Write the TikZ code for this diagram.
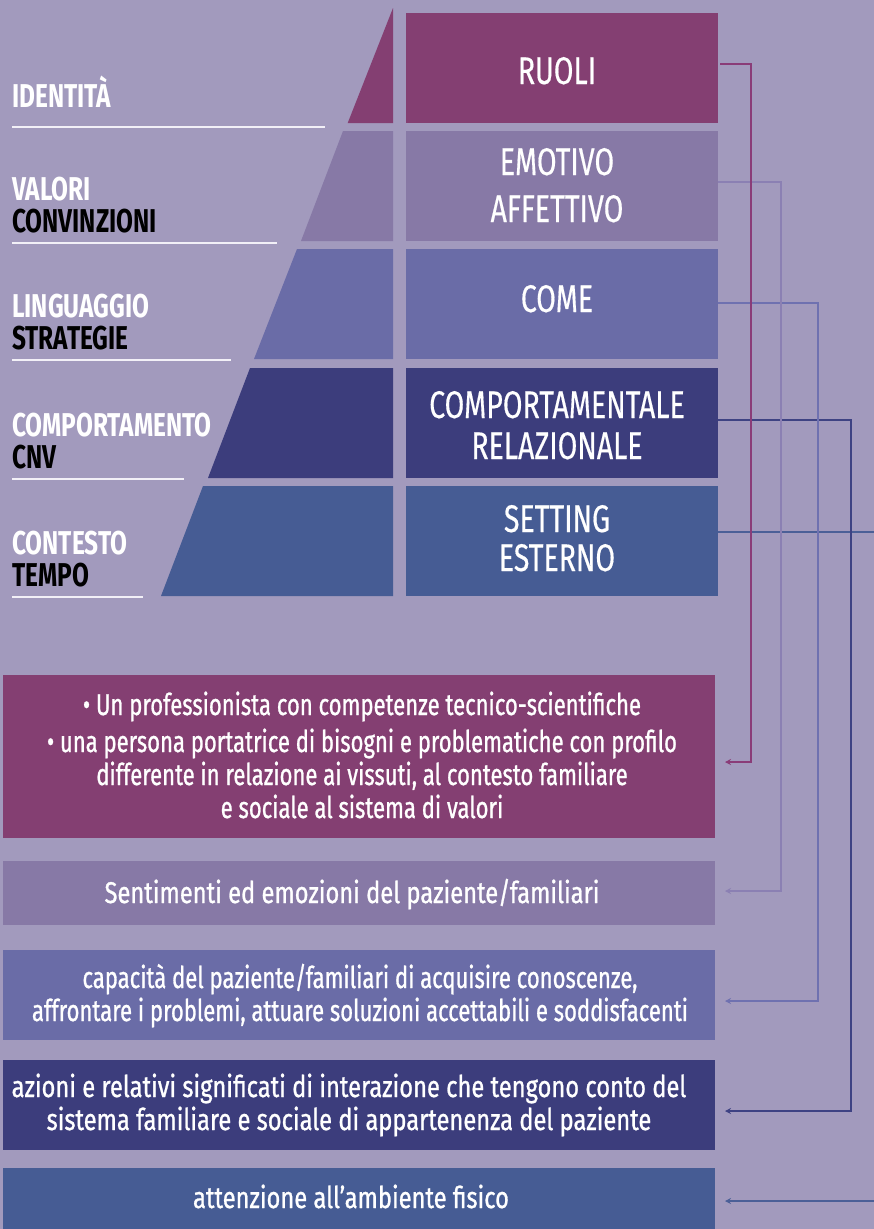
\documentclass[tikz,border=0pt]{standalone}
\usepackage{fontspec}
\setmainfont{Fira Sans}[FakeStretch=0.74]
\newfontfamily\rfont{Fira Sans}[FakeStretch=0.74, FakeBold=0.4]
\newfontfamily\lowA{Fira Sans}[FakeStretch=0.735, FakeBold=0.9]
\newfontfamily\lowB{Fira Sans}[FakeStretch=0.79, FakeBold=0.9]
\usetikzlibrary{arrows.meta}
\definecolor{bg}{HTML}{A29ABD}
\definecolor{cR}{HTML}{843F72}
\definecolor{cE}{HTML}{8779A6}
\definecolor{cC}{HTML}{6A6CA7}
\definecolor{cB}{HTML}{3C3D7C}
\definecolor{cS}{HTML}{465C94}
\definecolor{lR}{HTML}{8A3C78}
\definecolor{lE}{HTML}{8B80B3}
\definecolor{lC}{HTML}{6F71B0}
\definecolor{lB}{HTML}{3E4283}
\definecolor{lS}{HTML}{4B5F97}
\definecolor{uline}{HTML}{F2F0F7}
\tikzset{
  rbox/.style={rectangle, inner sep=0pt, minimum width=312pt, minimum height=110pt},
  bbox/.style={rectangle, inner sep=0pt, minimum width=712pt},
  rtext/.style={anchor=base, inner sep=0pt, text=white, align=center, font=\rfont\fontsize{38.5}{#1}\selectfont},
  rtext/.default=42,
  btext/.style={anchor=base, inner sep=0pt, text=white, align=center, font=#1\fontsize{30}{33}\selectfont},
  btext/.default=\lowB,
  ltextw/.style={anchor=base west, inner sep=0pt, text=white, font=\bfseries\fontsize{33}{33}\selectfont},
  ltextb/.style={anchor=base west, inner sep=0pt, text=black, font=\bfseries\fontsize{33}{33}\selectfont},
  ul/.style={draw=uline, line width=2pt},
  conn/.style={draw=#1, line width=1.6pt, -{Stealth[length=6pt,width=6pt]}},
}
\begin{document}
\begin{tikzpicture}[x=1pt,y=-1pt]
\fill[bg] (0,0) rectangle (874,1229);
\useasboundingbox (0,0) rectangle (874,1229);

% pyramid
\fill[cR] (393,8) -- (393,123) -- (347.7,123) -- cycle;
\fill[cE] (393,131) -- (393,241) -- (301,241) -- (343,131) -- cycle;
\fill[cC] (393,249) -- (393,359) -- (254,359) -- (297,249) -- cycle;
\fill[cB] (393,368) -- (393,478) -- (208,478) -- (250,368) -- cycle;
\fill[cS] (393,486) -- (393,596) -- (161,596) -- (203,486) -- cycle;

% right boxes
\node[rbox, fill=cR] (ruoli) at (562,68) {};
\node[rbox, fill=cE] (emot) at (562,186) {};
\node[rbox, fill=cC] (come) at (562,304) {};
\node[rbox, fill=cB] (comp) at (562,423) {};
\node[rbox, fill=cS] (sett) at (562,541) {};
\node[rtext] (truoli) at (557,84) {RUOLI};
\node[rtext=47] (temot) at (557,222) {EMOTIVO\\AFFETTIVO};
\node[rtext] (tcome) at (557,312) {COME};
\node[rtext=41] (tcomp) at (557,459) {COMPORTAMENTALE\\RELAZIONALE};
\node[rtext=39] (tsett) at (557,571) {SETTING\\ESTERNO};

% left labels
\node[ltextw] (l1) at (12,107) {IDENTITÀ};
\draw[ul] (12,127) -- (325,127);
\node[ltextw] (l2a) at (12,200) {VALORI};
\node[ltextb] (l2b) at (12,232) {CONVINZIONI};
\draw[ul] (12,243) -- (277,243);
\node[ltextw] (l3a) at (12,317) {LINGUAGGIO};
\node[ltextb] (l3b) at (12,349) {STRATEGIE};
\draw[ul] (12,360) -- (231,360);
\node[ltextw] (l4a) at (12,436) {COMPORTAMENTO};
\node[ltextb] (l4b) at (12,468) {CNV};
\draw[ul] (12,479) -- (184,479);
\node[ltextw] (l5a) at (12,554) {CONTESTO};
\node[ltextb] (l5b) at (12,586) {TEMPO};
\draw[ul] (12,597) -- (143,597);

% bottom boxes
\node[bbox, fill=cR, minimum height=163pt] (b1) at (359,756.5) {};
\node[bbox, fill=cE, minimum height=64pt] (b2) at (359,893) {};
\node[bbox, fill=cC, minimum height=90pt] (b3) at (359,995) {};
\node[bbox, fill=cB, minimum height=90pt] (b4) at (359,1105) {};
\node[bbox, fill=cS, minimum height=64pt] (b5) at (359,1200) {};

\node[btext=\lowA] (t1) at (362,818) {• Un professionista con competenze tecnico-scientifiche\\[4pt]
• una persona portatrice di bisogni e problematiche con profilo\\
differente in relazione ai vissuti, al contesto familiare\\
e sociale al sistema di valori};
\node[btext] (t2) at (352,903) {Sentimenti ed emozioni del paziente/familiari};
\node[btext=\lowA] (t3) at (360,1021) {capacità del paziente/familiari di acquisire conoscenze,\\
affrontare i problemi, attuare soluzioni accettabili e soddisfacenti};
\node[btext] (t4) at (349,1130) {azioni e relativi significati di interazione che tengono conto del\\
sistema familiare e sociale di appartenenza del paziente};
\node[btext] (t5) at (351,1208) {attenzione all’ambiente fisico};

% connectors
\coordinate (k1) at (751,64);  \coordinate (e1) at (725,762);
\coordinate (k2) at (781,182); \coordinate (e2) at (725,891);
\coordinate (k3) at (818,303); \coordinate (e3) at (725,1001);
\coordinate (k4) at (851,420); \coordinate (e4) at (725,1111);
\coordinate (k5) at (892,532); \coordinate (e5) at (725,1201);
\draw[conn=lS] (sett.east |- k5) -- (k5) |- (e5);
\draw[conn=lB] (comp.east |- k4) -- (k4) |- (e4);
\draw[conn=lC] (come.east |- k3) -- (k3) |- (e3);
\draw[conn=lE] (emot.east |- k2) -- (k2) |- (e2);
\draw[conn=lR] ([xshift=2pt]ruoli.east |- k1) -- (k1) |- (e1);
\end{tikzpicture}
\end{document}
